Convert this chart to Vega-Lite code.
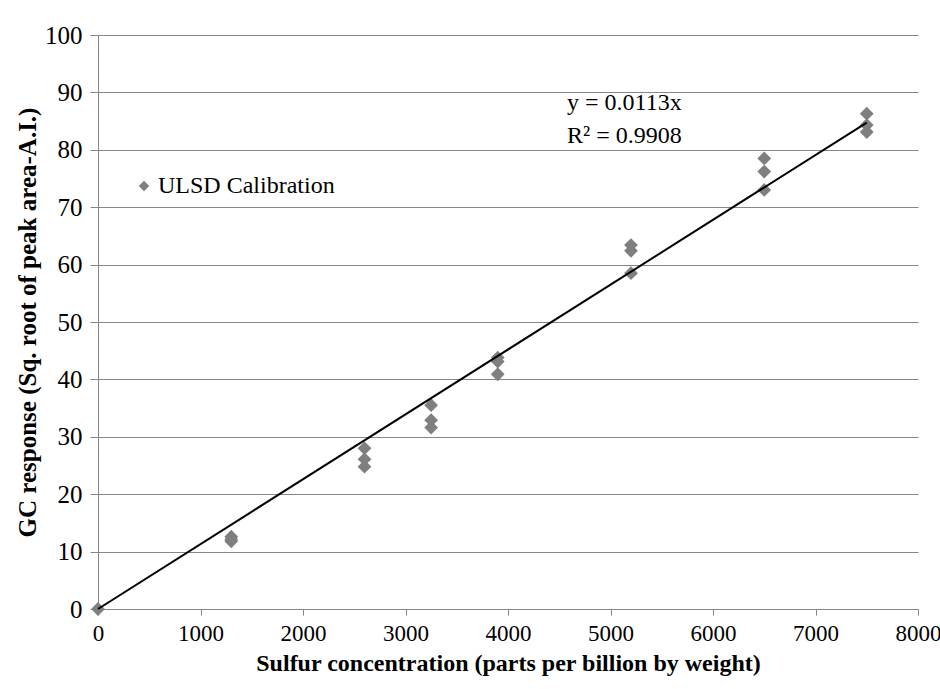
{
  "$schema": "https://vega.github.io/schema/vega-lite/v6.json",
  "width": 820,
  "height": 574,
  "autosize": {"type": "none"},
  "padding": {"left": 98, "top": 35, "right": 22, "bottom": 80},
  "background": "white",
  "config": {
    "view": {"stroke": null},
    "font": "Liberation Serif",
    "text": {"font": "Liberation Serif"},
    "axis": {
      "labelFont": "Liberation Serif",
      "titleFont": "Liberation Serif",
      "labelColor": "#000000",
      "titleColor": "#000000",
      "domainColor": "#868686",
      "tickColor": "#868686",
      "gridColor": "#868686",
      "titleFontWeight": "bold"
    },
    "legend": {"labelFont": "Liberation Serif"}
  },
  "datasets": {
    "points": [
      {"conc": 0, "resp": 0, "series": "ULSD Calibration"},
      {"conc": 1300, "resp": 12.6, "series": "ULSD Calibration"},
      {"conc": 1300, "resp": 12.1, "series": "ULSD Calibration"},
      {"conc": 1300, "resp": 11.8, "series": "ULSD Calibration"},
      {"conc": 2600, "resp": 28.0, "series": "ULSD Calibration"},
      {"conc": 2600, "resp": 26.1, "series": "ULSD Calibration"},
      {"conc": 2600, "resp": 24.8, "series": "ULSD Calibration"},
      {"conc": 3250, "resp": 35.5, "series": "ULSD Calibration"},
      {"conc": 3250, "resp": 32.9, "series": "ULSD Calibration"},
      {"conc": 3250, "resp": 31.6, "series": "ULSD Calibration"},
      {"conc": 3900, "resp": 43.8, "series": "ULSD Calibration"},
      {"conc": 3900, "resp": 43.1, "series": "ULSD Calibration"},
      {"conc": 3900, "resp": 40.9, "series": "ULSD Calibration"},
      {"conc": 5200, "resp": 63.4, "series": "ULSD Calibration"},
      {"conc": 5200, "resp": 62.4, "series": "ULSD Calibration"},
      {"conc": 5200, "resp": 58.5, "series": "ULSD Calibration"},
      {"conc": 6500, "resp": 78.5, "series": "ULSD Calibration"},
      {"conc": 6500, "resp": 76.2, "series": "ULSD Calibration"},
      {"conc": 6500, "resp": 73.0, "series": "ULSD Calibration"},
      {"conc": 7500, "resp": 86.3, "series": "ULSD Calibration"},
      {"conc": 7500, "resp": 84.3, "series": "ULSD Calibration"},
      {"conc": 7500, "resp": 83.1, "series": "ULSD Calibration"}
    ],
    "trend": [
      {"conc": 0, "resp": 0},
      {"conc": 7500, "resp": 84.75}
    ],
    "notes": [
      {"conc": 4576, "resp": 88.2, "label": "y = 0.0113x"},
      {"conc": 4576, "resp": 82.4, "label": "R² = 0.9908"}
    ]
  },
  "layer": [
    {
      "data": {"name": "points"},
      "mark": {"type": "point", "shape": "diamond", "filled": true, "size": 190, "opacity": 1},
      "encoding": {
        "x": {
          "field": "conc", "type": "quantitative",
          "scale": {"domain": [0, 8000], "nice": false},
          "axis": {
            "title": "Sulfur concentration (parts per billion by weight)",
            "values": [0, 1000, 2000, 3000, 4000, 5000, 6000, 7000, 8000],
            "format": "d",
            "labelFont": "Liberation Serif", "titleFont": "Liberation Serif",
            "labelFontSize": 23, "titleFontSize": 24,
            "grid": false, "tickSize": 6, "labelPadding": 7, "titlePadding": 6,
            "labelFlush": false
          }
        },
        "y": {
          "field": "resp", "type": "quantitative",
          "scale": {"domain": [0, 100], "nice": false},
          "axis": {
            "title": "GC response (Sq. root of peak area-A.I.)",
            "values": [0, 10, 20, 30, 40, 50, 60, 70, 80, 90, 100],
            "format": "d",
            "labelFont": "Liberation Serif", "titleFont": "Liberation Serif",
            "labelFontSize": 25, "titleFontSize": 25,
            "grid": true, "tickSize": 8, "labelPadding": 8, "titlePadding": 4
          }
        },
        "color": {
          "field": "series", "type": "nominal",
          "scale": {"range": ["#7f7f7f"]},
          "legend": {
            "title": null, "orient": "none", "legendX": 34, "legendY": 139,
            "labelFont": "Liberation Serif", "labelFontSize": 24, "labelColor": "#000000",
            "labelLimit": 400,
            "symbolType": "diamond", "symbolSize": 110, "symbolFillColor": "#7f7f7f",
            "symbolStrokeWidth": 0, "labelOffset": 2
          }
        }
      }
    },
    {
      "data": {"name": "trend"},
      "mark": {"type": "line", "color": "#000000", "strokeWidth": 2},
      "encoding": {
        "x": {"field": "conc", "type": "quantitative"},
        "y": {"field": "resp", "type": "quantitative"}
      }
    },
    {
      "data": {"name": "notes"},
      "mark": {"type": "text", "align": "left", "baseline": "middle", "font": "Liberation Serif", "fontSize": 24, "color": "#000000"},
      "encoding": {
        "x": {"field": "conc", "type": "quantitative"},
        "y": {"field": "resp", "type": "quantitative"},
        "text": {"field": "label"}
      }
    }
  ]
}
